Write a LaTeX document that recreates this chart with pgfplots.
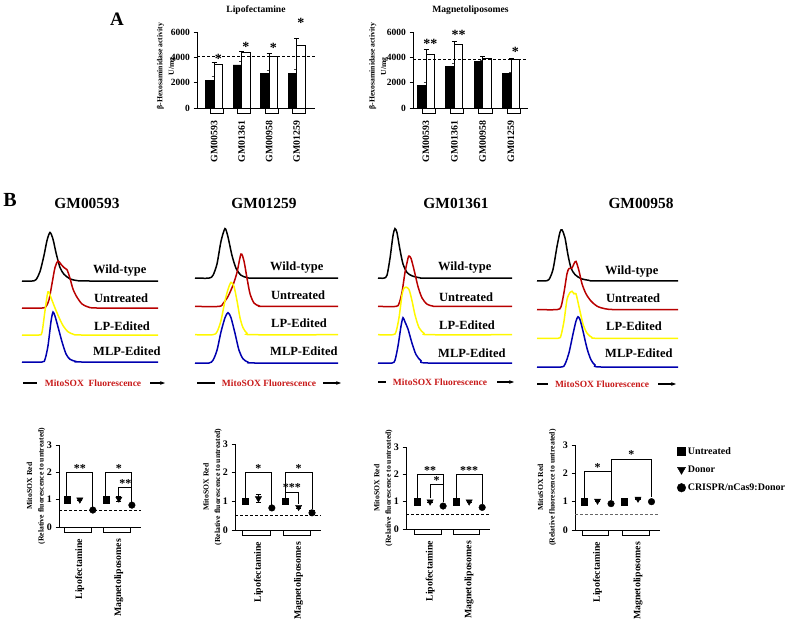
\documentclass[border=0pt]{standalone}
\usepackage{fontspec}
\setmainfont{Liberation Serif}
\usepackage{pgfplots}
\pgfplotsset{compat=1.18}
\usetikzlibrary{arrows.meta}

\definecolor{hred}{RGB}{185,0,0}
\definecolor{hyel}{RGB}{255,248,0}
\definecolor{hblue}{RGB}{0,0,175}
\definecolor{tred}{RGB}{200,25,25}

\newcommand{\bff}[1]{\fontsize{#1}{#1}\selectfont\bfseries}

\tikzset{
  astA/.style={font=\bff{14}, inner sep=0pt, yshift=-2pt},
  astB/.style={font=\bff{12}, inner sep=0pt, anchor=south},
  brk/.style={line width=0.9pt},
}

\pgfplotsset{
  prism/.style={scale only axis, axis lines=left, axis line style={-, line width=0.9pt},
    tick style={line width=0.9pt, black}, tick align=outside, major tick length=3.5pt,
    xtick style={draw=none}, clip=false,
    /pgf/number format/assume math mode=true, /pgf/number format/1000 sep={},
    scaled y ticks=false,
    yticklabel style={font=\bff{9.5}},
    xticklabel style={font=\bff{9.8}, rotate=90, anchor=east},
    every axis y label/.style={rotate=90, anchor=center, align=center,
      font=\fontsize{7.7}{11.5}\selectfont\bfseries},
    every axis title/.style={at={(axis description cs:0.5,1)}, anchor=center,
      yshift=22pt, font=\bff{9.6}}},
  barA/.style={prism, ymin=0, ymax=6000, ytick={0,2000,4000,6000}, height=76pt,
    xtick={0,1,2,3}, xticklabels={GM00593,GM01361,GM00958,GM01259},
    xticklabel shift=6pt,
    ylabel={β-Hexosaminidase activity\\U/mg}},
  blk/.style={ybar, bar width=8.5pt, bar shift=-4.25pt, fill=black, draw=black, line width=0.8pt,
    error bars/y dir=plus, error bars/y explicit,
    error bars/error bar style={line width=0.8pt, black!75},
    error bars/error mark options={rotate=90, mark size=2.5pt, line width=0.8pt, black!75}},
  wht/.style={ybar, bar width=8.5pt, bar shift=4.25pt, fill=white, draw=black, line width=0.8pt,
    error bars/y dir=plus, error bars/y explicit,
    error bars/error bar style={line width=0.8pt},
    error bars/error mark options={rotate=90, mark size=2.5pt, line width=0.8pt}},
  dline/.style={black, line width=0.8pt, dash pattern=on 3pt off 2pt, no markers, forget plot},
  scat/.style={prism, ymin=0, ymax=3, ytick={0,1,2,3}, xtick={1,4},
    xticklabels={Lipofectamine,Magnetoliposomes}, xticklabel shift=5pt,
    yticklabel style={font=\bff{10}},
    ylabel={MitoSOX Red\\(Relative fluorescence to untreated)}},
  unt/.style={only marks, mark=square*, mark size=3.1pt, black},
  don/.style={only marks, mark=triangle*, mark size=3.6pt, black, mark options={rotate=180},
    error bars/y dir=both, error bars/y explicit,
    error bars/error bar style={line width=0.8pt},
    error bars/error mark options={rotate=90, mark size=2.6pt, line width=0.8pt}},
  cri/.style={only marks, mark=*, mark size=3.3pt, black,
    error bars/y dir=both, error bars/y explicit,
    error bars/error bar style={line width=0.8pt},
    error bars/error mark options={rotate=90, mark size=2.6pt, line width=0.8pt}},
  hist/.style={scale only axis, hide axis, clip=false, xmin=0, ymin=0, ymax=5,
    every axis plot/.append style={line width=1.5pt, smooth, tension=0.45, no markers}},
}

\begin{document}
\begin{tikzpicture}
\path[use as bounding box] (0pt,0pt) rectangle (790pt,-627pt);

\node[font=\bff{19}] at (117pt,-19pt) {A};
\node[font=\bff{20}] at (10pt,-200pt) {B};

%% ---------------- Panel A: Lipofectamine
\begin{axis}[barA, at={(197pt,-108pt)}, anchor=south west, width=118pt,
  xmin=-0.62, xmax=3.67, title={Lipofectamine},
  ylabel style={at={(axis description cs:-0.26,0.55)}}]
\addplot[blk] coordinates {(0,2150) +- (0,350) (1,3400) +- (0,250) (2,2700) +- (0,250) (3,2750) +- (0,300)};
\addplot[wht] coordinates {(0,3450) +- (0,150) (1,4400) +- (0,100) (2,4100) +- (0,200) (3,4950) +- (0,550)};
\addplot[dline] coordinates {(-0.62,4100) (3.67,4100)};
\draw[line width=0.8pt] (axis cs:-0.14,0) rectangle ([yshift=-5pt]axis cs:0.33,0);
\draw[line width=0.8pt] (axis cs:0.86,0) rectangle ([yshift=-5pt]axis cs:1.33,0);
\draw[line width=0.8pt] (axis cs:1.86,0) rectangle ([yshift=-5pt]axis cs:2.33,0);
\draw[line width=0.8pt] (axis cs:2.86,0) rectangle ([yshift=-5pt]axis cs:3.33,0);
\node[astA] at (axis cs:0.155,4026) {*};
\node[astA] at (axis cs:1.155,4974) {*};
\node[astA] at (axis cs:2.155,4895) {*};
\node[astA] at (axis cs:3.155,6900) {*};
\end{axis}

%% ---------------- Panel A: Magnetoliposomes
\begin{axis}[barA, at={(413pt,-108pt)}, anchor=south west, width=115pt,
  xmin=-0.46, xmax=3.6, title={Magnetoliposomes},
  ylabel style={at={(axis description cs:-0.3,0.55)}}]
\addplot[blk] coordinates {(0,1750) +- (0,250) (1,3250) +- (0,300) (2,3700) +- (0,50) (3,2750) +- (0,100)};
\addplot[wht] coordinates {(0,4250) +- (0,400) (1,5050) +- (0,200) (2,3900) +- (0,150) (3,3800) +- (0,150)};
\addplot[dline] coordinates {(-0.46,3800) (3.6,3800)};
\draw[line width=0.8pt] (axis cs:-0.14,0) rectangle ([yshift=-5pt]axis cs:0.33,0);
\draw[line width=0.8pt] (axis cs:0.86,0) rectangle ([yshift=-5pt]axis cs:1.33,0);
\draw[line width=0.8pt] (axis cs:1.86,0) rectangle ([yshift=-5pt]axis cs:2.33,0);
\draw[line width=0.8pt] (axis cs:2.86,0) rectangle ([yshift=-5pt]axis cs:3.33,0);
\node[astA] at (axis cs:0.15,5210) {**};
\node[astA] at (axis cs:1.15,5921) {**};
\node[astA] at (axis cs:3.15,4579) {*};
\end{axis}

%% ---------------- Panel B titles
\node[font=\bff{15.4}] at (87pt,-203pt) {GM00593};
\node[font=\bff{15.4}] at (264pt,-203pt) {GM01259};
\node[font=\bff{15.4}] at (456pt,-203pt) {GM01361};
\node[font=\bff{15.4}] at (641pt,-203pt) {GM00958};

%% ---------------- Histograms GM00593
\begin{axis}[hist, at={(22pt,-362pt)}, anchor=south west, width=136pt, height=135pt, xmax=136]
\addplot[black] table[row sep=\\, y expr=\thisrow{h}+3] {x h\\0 0\\10 0\\14 0.05\\18 0.35\\22 0.95\\25 1.5\\28 1.8\\31 1.55\\34 1.05\\38 0.5\\42 0.25\\48 0.08\\56 0.01\\70 0\\136 0\\};
\addplot[hred] table[row sep=\\, y expr=\thisrow{h}+2] {x h\\0 0\\20 0\\24 0.05\\27 0.3\\30 0.9\\33 1.5\\36 1.74\\39 1.62\\42 1.5\\45 1.42\\48 1.1\\51 0.7\\55 0.4\\60 0.15\\66 0.04\\75 0\\136 0\\};
\addplot[hyel] table[row sep=\\, y expr=\thisrow{h}+1] {x h\\0 0\\17 0\\20 0.1\\23 0.9\\26 1.6\\29 1.38\\33 1.0\\37 0.65\\41 0.35\\46 0.12\\52 0.02\\60 0\\136 0\\};
\addplot[hblue] table[row sep=\\, y expr=\thisrow{h}+0] {x h\\0 0\\20 0\\23 0.1\\26 0.6\\29 1.5\\31 1.85\\33 1.7\\36 1.3\\40 0.75\\44 0.3\\48 0.1\\54 0.02\\60 0\\136 0\\};
\end{axis}

%% ---------------- Histograms GM01259
\begin{axis}[hist, at={(195pt,-363pt)}, anchor=south west, width=143pt, height=141.5pt, xmax=143]
\addplot[black] table[row sep=\\, y expr=\thisrow{h}+3] {x h\\0 0\\14 0\\18 0.1\\22 0.5\\26 1.3\\30 1.75\\33 1.45\\37 0.8\\41 0.35\\46 0.1\\52 0.02\\60 0\\143 0\\};
\addplot[hred] table[row sep=\\, y expr=\thisrow{h}+2] {x h\\0 0\\24 0\\28 0.1\\33 0.35\\38 0.75\\42 1.2\\46 1.85\\49 1.6\\52 1.0\\55 0.45\\59 0.12\\64 0.02\\70 0\\143 0\\};
\addplot[hyel] table[row sep=\\, y expr=\thisrow{h}+1] {x h\\0 0\\18 0\\22 0.1\\26 0.5\\30 1.2\\33 1.6\\36 1.85\\39 1.7\\42 1.2\\45 0.6\\48 0.25\\52 0.05\\58 0\\143 0\\};
\addplot[hblue] table[row sep=\\, y expr=\thisrow{h}+0] {x h\\0 0\\14 0\\18 0.1\\22 0.45\\26 1.1\\30 1.6\\33 1.78\\36 1.6\\40 1.05\\44 0.45\\48 0.15\\53 0.03\\60 0\\143 0\\};
\end{axis}

%% ---------------- Histograms GM01361
\begin{axis}[hist, at={(378pt,-363pt)}, anchor=south west, width=134pt, height=141.5pt, xmax=134]
\addplot[black] table[row sep=\\, y expr=\thisrow{h}+3] {x h\\0 0\\6 0\\9 0.1\\12 0.7\\15 1.5\\17 1.75\\19 1.6\\22 1.0\\25 0.5\\29 0.2\\34 0.08\\42 0.01\\50 0\\134 0\\};
\addplot[hred] table[row sep=\\, y expr=\thisrow{h}+2] {x h\\0 0\\18 0\\21 0.1\\24 0.5\\27 1.2\\30 1.7\\31 1.78\\33 1.7\\36 1.3\\40 0.7\\44 0.3\\49 0.08\\55 0.01\\62 0\\134 0\\};
\addplot[hyel] table[row sep=\\, y expr=\thisrow{h}+1] {x h\\0 0\\15 0\\18 0.1\\21 0.6\\24 1.4\\26 1.65\\28 1.68\\31 1.6\\34 1.2\\37 0.7\\41 0.25\\46 0.05\\52 0\\134 0\\};
\addplot[hblue] table[row sep=\\, y expr=\thisrow{h}+0] {x h\\0 0\\14 0\\17 0.1\\20 0.6\\23 1.3\\25 1.6\\27 1.45\\30 1.2\\34 0.7\\38 0.3\\43 0.08\\50 0\\134 0\\};
\end{axis}

%% ---------------- Histograms GM00958
\begin{axis}[hist, at={(537pt,-367pt)}, anchor=south west, width=141pt, height=143.5pt, xmax=141]
\addplot[black] table[row sep=\\, y expr=\thisrow{h}+3] {x h\\0 0\\8 0\\12 0.05\\16 0.4\\20 1.2\\23 1.7\\25 1.78\\28 1.5\\31 0.9\\34 0.45\\38 0.22\\44 0.08\\52 0.02\\60 0\\141 0\\};
\addplot[hred] table[row sep=\\, y expr=\thisrow{h}+2] {x h\\0 0\\20 0\\24 0.1\\27 0.6\\30 1.25\\32 1.43\\35 1.45\\37 1.6\\39 1.68\\42 1.35\\45 0.9\\49 0.55\\54 0.3\\60 0.12\\68 0.03\\80 0\\141 0\\};
\addplot[hyel] table[row sep=\\, y expr=\thisrow{h}+1] {x h\\0 0\\21 0\\24 0.1\\27 0.6\\30 1.35\\33 1.6\\35 1.64\\37 1.55\\39 1.55\\42 1.1\\46 0.5\\50 0.18\\55 0.03\\62 0\\141 0\\};
\addplot[hblue] table[row sep=\\, y expr=\thisrow{h}+0] {x h\\0 0\\24 0\\28 0.1\\32 0.5\\36 1.15\\39 1.6\\41 1.75\\43 1.65\\46 1.25\\50 0.65\\54 0.25\\58 0.07\\64 0\\141 0\\};
\end{axis}

%% histogram labels
\begin{scope}[every node/.style={font=\bff{12.5}, anchor=west, inner sep=0pt}]
\node at (93pt,-271pt) {Wild-type};
\node at (94pt,-298pt) {Untreated};
\node at (94pt,-326pt) {LP-Edited};
\node at (93pt,-351pt) {MLP-Edited};
\node at (270pt,-268pt) {Wild-type};
\node at (271pt,-295pt) {Untreated};
\node at (271pt,-323pt) {LP-Edited};
\node at (270pt,-351pt) {MLP-Edited};
\node at (438pt,-268pt) {Wild-type};
\node at (439pt,-297pt) {Untreated};
\node at (439pt,-325pt) {LP-Edited};
\node at (438pt,-353pt) {MLP-Edited};
\node at (605pt,-272pt) {Wild-type};
\node at (606pt,-298pt) {Untreated};
\node at (606pt,-326pt) {LP-Edited};
\node at (605pt,-353pt) {MLP-Edited};
\end{scope}

%% fluorescence arrows
\begin{scope}[every node/.style={font=\bff{9.5}, text=tred, inner sep=0pt}]
\draw[line width=1.3pt] (23pt,-383pt) -- (37pt,-383pt);
\node at (93pt,-383pt) {MitoSOX\ \ Fluorescence};
\draw[line width=1.3pt, -{Stealth[length=5pt]}] (150pt,-383pt) -- (165pt,-383pt);
\draw[line width=1.3pt] (197pt,-383pt) -- (215pt,-383pt);
\node at (269pt,-383pt) {MitoSOX Fluorescence};
\draw[line width=1.3pt, -{Stealth[length=5pt]}] (323pt,-383pt) -- (341pt,-383pt);
\draw[line width=1.3pt] (378pt,-382pt) -- (386pt,-382pt);
\node at (440pt,-382pt) {MitoSOX Fluorescence};
\draw[line width=1.3pt, -{Stealth[length=5pt]}] (497pt,-382pt) -- (514pt,-382pt);
\draw[line width=1.3pt] (537pt,-384pt) -- (548pt,-384pt);
\node at (602pt,-384pt) {MitoSOX Fluorescence};
\draw[line width=1.3pt, -{Stealth[length=5pt]}] (658pt,-384pt) -- (676pt,-384pt);
\end{scope}

%% ---------------- Scatter GM00593
\begin{axis}[scat, at={(59pt,-527pt)}, anchor=south west, width=82pt, height=82pt,
  xmin=-0.6, xmax=5.7, ylabel style={at={(axis description cs:-0.28,0.5)}}]
\addplot[unt] coordinates {(0,1.0) (3,1.0)};
\addplot[don] coordinates {(1,1.0) +- (0,0.03) (4,1.03) +- (0,0.09)};
\addplot[cri] coordinates {(2,0.62) +- (0,0.02) (5,0.8) +- (0,0.03)};
\addplot[dline] coordinates {(-0.6,0.62) (5.7,0.62)};
\draw[line width=0.8pt] (axis cs:-0.17,0) rectangle ([yshift=-5pt]axis cs:1.87,0);
\draw[line width=0.8pt] (axis cs:2.83,0) rectangle ([yshift=-5pt]axis cs:4.85,0);
\draw[brk] (axis cs:0,1.12) |- (axis cs:2,2) -- (axis cs:2,0.75);
\draw[brk] (axis cs:3,1.12) |- (axis cs:5,2) -- (axis cs:5,0.92);
\draw[brk] (axis cs:4,1.15) |- (axis cs:5,1.45);
\node[astB] at (axis cs:1,2) {**};
\node[astB] at (axis cs:4,2) {*};
\node[astB] at (axis cs:4.5,1.45) {**};
\end{axis}

%% ---------------- Scatter GM01259
\begin{axis}[scat, at={(235pt,-530pt)}, anchor=south west, width=86pt, height=86pt,
  xmin=-0.75, xmax=5.67, ylabel style={at={(axis description cs:-0.26,0.5)}}]
\addplot[unt] coordinates {(0,1.0) (3,1.0)};
\addplot[don] coordinates {(1,1.1) +- (0,0.15) (4,0.8) +- (0,0.03)};
\addplot[cri] coordinates {(2,0.77) +- (0,0.02) (5,0.6) +- (0,0.07)};
\addplot[dline] coordinates {(-0.75,0.52) (5.67,0.52)};
\draw[line width=0.8pt] (axis cs:-0.17,0) rectangle ([yshift=-5pt]axis cs:1.87,0);
\draw[line width=0.8pt] (axis cs:2.83,0) rectangle ([yshift=-5pt]axis cs:4.85,0);
\draw[brk] (axis cs:0,1.12) |- (axis cs:2,2) -- (axis cs:2,0.88);
\draw[brk] (axis cs:3,1.12) |- (axis cs:5,2) -- (axis cs:5,0.75);
\draw[brk] (axis cs:3,1.32) -| (axis cs:4,0.92);
\node[astB] at (axis cs:1,2) {*};
\node[astB] at (axis cs:4,2) {*};
\node[astB] at (axis cs:3.5,1.32) {***};
\end{axis}

%% ---------------- Scatter GM01361
\begin{axis}[scat, at={(406pt,-529pt)}, anchor=south west, width=84pt, height=82pt,
  xmin=-0.85, xmax=5.6, ylabel style={at={(axis description cs:-0.27,0.5)}}]
\addplot[unt] coordinates {(0,1.0) (3,1.0)};
\addplot[don] coordinates {(1,1.0) +- (0,0.03) (4,1.0) +- (0,0.03)};
\addplot[cri] coordinates {(2,0.84) +- (0,0.02) (5,0.79) +- (0,0.02)};
\addplot[dline] coordinates {(-0.85,0.52) (5.6,0.52)};
\draw[line width=0.8pt] (axis cs:-0.2,0) rectangle ([yshift=-5pt]axis cs:1.85,0);
\draw[line width=0.8pt] (axis cs:2.8,0) rectangle ([yshift=-5pt]axis cs:4.8,0);
\draw[brk] (axis cs:0,1.12) |- (axis cs:2,2) -- (axis cs:2,0.97);
\draw[brk] (axis cs:1,1.12) |- (axis cs:2,1.62);
\draw[brk] (axis cs:3,1.12) |- (axis cs:5,2) -- (axis cs:5,0.9);
\node[astB] at (axis cs:1,2) {**};
\node[astB] at (axis cs:1.5,1.62) {*};
\node[astB] at (axis cs:4,2) {***};
\end{axis}

%% ---------------- Scatter GM00958
\begin{axis}[scat, at={(575pt,-530pt)}, anchor=south west, width=85pt, height=85pt,
  xmin=-0.67, xmax=5.63, ylabel style={at={(axis description cs:-0.33,0.5)}},
  legend style={draw=none, fill=none, at={(axis description cs:1.2,1.0)}, anchor=north west,
    font=\bff{10}, row sep=6pt, inner sep=0pt},
  legend cell align=left,
  legend image code/.code={\draw[#1, every mark/.append style={scale=1.3}] plot coordinates {(4pt,0pt)};}]
\addplot[unt] coordinates {(0,1.0) (3,1.0)};
\addlegendentry{Untreated}
\addplot[don] coordinates {(1,1.03) +- (0,0.03) (4,1.1) +- (0,0.03)};
\addlegendentry{Donor}
\addplot[cri] coordinates {(2,0.93) +- (0,0.02) (5,1.0) +- (0,0.02)};
\addlegendentry{CRISPR/nCas9:Donor}
\addplot[dline, black!60] coordinates {(-0.67,0.55) (5.63,0.55)};
\draw[line width=0.8pt] (axis cs:-0.15,0) rectangle ([yshift=-5pt]axis cs:1.8,0);
\draw[line width=0.8pt] (axis cs:2.81,0) rectangle ([yshift=-5pt]axis cs:4.81,0);
\draw[brk] (axis cs:0,1.12) |- (axis cs:2,2.05) -- (axis cs:2,1.07);
\draw[brk] (axis cs:2,2.05) |- (axis cs:5,2.5) -- (axis cs:5,1.15);
\node[astB] at (axis cs:1,2.05) {*};
\node[astB] at (axis cs:3.5,2.5) {*};
\end{axis}
\end{tikzpicture}
\end{document}
